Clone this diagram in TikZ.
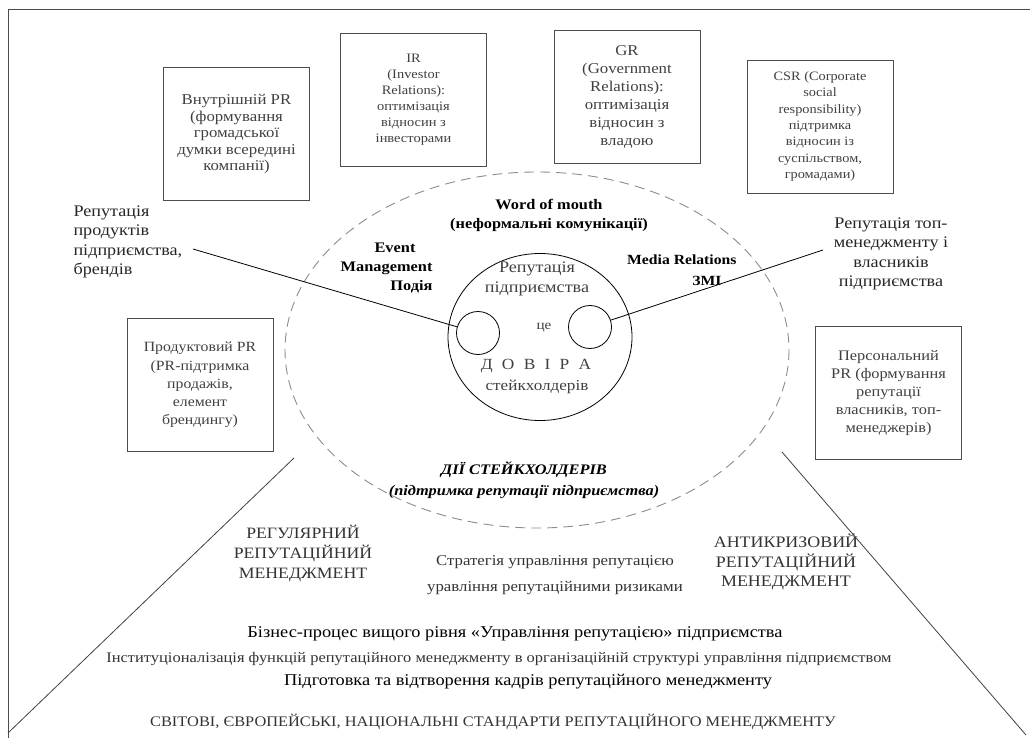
\documentclass[tikz,border=0pt]{standalone}
\usepackage{fontspec}
\setmainfont[FakeStretch=1.12]{Liberation Serif}
\usepackage{tikz}
\usetikzlibrary{shapes.geometric}

\newcommand{\fsz}[2]{\fontsize{#1}{#2}\selectfont}

\tikzset{
  pbox/.style={draw=black!70, line width=0.9pt, minimum width=146pt, minimum height=133pt,
    align=center, inner sep=1pt, text=black!75},
  outerlbl/.style={text=black!85, font=\fsz{16.2}{19.5}},
  boldlbl/.style={align=center, text=black, font=\bfseries\fsz{14.6}{19}},
  pyrtxt/.style={align=center, text=black!80},
  smallc/.style={draw, circle, line width=0.8pt, minimum size=43pt, inner sep=0pt},
  coretxt/.style={align=center, text=black!75},
}

\begin{document}
\begin{tikzpicture}[x=1pt,y=-1pt]
  \useasboundingbox (0,0) rectangle (1030,738);
  % frame
  \draw[black!70, line width=0.8pt] (1030,9) -- (8,9) -- (8,738);

  % PR boxes
  \node[pbox, font=\fsz{15}{16.5}] (vnutr) at (236.5,134) {Внутрішній PR\\(формування\\громадської\\думки всередині\\компанії)};
  \node[pbox, font=\fsz{12.9}{16}] (ir) at (413.5,99.5) {IR\\(Investor\\Relations):\\оптимізація\\відносин з\\інвесторами};
  \node[pbox, font=\fsz{15}{18}] (gr) at (627,96.5) {GR\\(Government\\Relations):\\оптимізація\\відносин з\\владою};
  \node[pbox, font=\fsz{12.8}{16.3}] (csr) at (820,126.5) {CSR (Corporate\\social\\responsibility)\\підтримка\\відносин із\\суспільством,\\громадами)};
  \node[pbox, font=\fsz{14.1}{18.3}] (prod) at (200,385) {Продуктовий PR\\(PR-підтримка\\продажів,\\елемент\\брендингу)};
  \node[pbox, font=\fsz{14.6}{18}] (pers) at (888.5,393) {Персональний\\PR (формування\\репутації\\власників, топ-\\менеджерів)};

  % outer labels
  \node[outerlbl, align=left, anchor=north west] (prodrep) at (70,202) {Репутація\\продуктів\\підприємства,\\брендів};
  \node[outerlbl, align=center] (toprep) at (891,254) {Репутація топ-\\менеджменту і\\власників\\підприємства};

  % dashed oval of stakeholder actions
  \draw[black!45, line width=0.9pt, dash pattern=on 10pt off 6pt] (537,350) ellipse [x radius=252, y radius=178];
  \node[boldlbl] (wom) at (549,215) {Word of mouth\\(неформальні комунікації)};
  \node[boldlbl, align=right, anchor=east] (event) at (436,268) {Event\hspace{17pt}\mbox{}\\Management\\Подія};
  \node[boldlbl, align=right, anchor=east, font=\bfseries\fsz{14}{21}] (media) at (740,270) {Media Relations\\ЗМІ\hspace{15pt}\mbox{}};
  \node[boldlbl, font=\bfseries\itshape\fsz{14.6}{21}] (dii) at (524,480) {ДІЇ СТЕЙКХОЛДЕРІВ\\(підтримка репутації підприємства)};

  % core: reputation = trust
  \node[draw, ellipse, line width=0.8pt, minimum width=184pt, minimum height=167pt] (core) at (540,337) {};
  \node[smallc] (lcirc) at (478,333) {};
  \node[smallc] (rcirc) at (590,327) {};
  \node[coretxt, font=\fsz{16.2}{20}] (reptxt) at (537,279) {Репутація\\підприємства};
  \node[coretxt, font=\fsz{13.5}{16}] (ce) at (544,328) {це};
  \node[coretxt, font=\fsz{15.5}{18}] (dovira) at (536,366) {Д\hspace{0.6em}О\hspace{0.6em}В\hspace{0.6em}І\hspace{0.6em}Р\hspace{0.6em}А};
  \node[coretxt, font=\fsz{15.3}{18}] (stkh) at (537,387) {стейкхолдерів};

  % connectors
  \coordinate (pa) at (193,249);
  \coordinate (pb) at (823,250);
  \draw[line width=0.8pt] (pa) -- (lcirc);
  \draw[line width=0.8pt] (pb) -- (rcirc);

  % pyramid
  \coordinate (pyl) at (8,733);
  \coordinate (pylt) at (294,458);
  \coordinate (pyr) at (1026,735);
  \coordinate (pyrt) at (782,452);
  \draw[black!75, line width=0.8pt] (pyl) -- (pylt);
  \draw[black!75, line width=0.8pt] (pyr) -- (pyrt);

  \node[pyrtxt, font=\fsz{15.8}{20}] (regul) at (303,553) {РЕГУЛЯРНИЙ\\РЕПУТАЦІЙНИЙ\\МЕНЕДЖМЕНТ};
  \node[pyrtxt, font=\fsz{16}{19.5}] (antik) at (786,562) {АНТИКРИЗОВИЙ\\РЕПУТАЦІЙНИЙ\\МЕНЕДЖМЕНТ};
  \node[pyrtxt, font=\fsz{15}{26}] (strat) at (555,575) {Стратегія управління репутацією\\уравління репутаційними ризиками};
  \node[pyrtxt, text=black, font=\fsz{16.4}{18}] (biz) at (515,634) {Бізнес-процес вищого рівня «Управління репутацією» підприємства};
  \node[pyrtxt, font=\fsz{14.7}{16}] (inst) at (499,659) {Інституціоналізація функцій репутаційного менеджменту в організаційній структурі управління підприємством};
  \node[pyrtxt, text=black, font=\fsz{16.4}{18}] (kadr) at (528,682) {Підготовка та відтворення кадрів репутаційного менеджменту};
  \node[pyrtxt, font=\fsz{14.6}{18}] (std) at (493,722) {СВІТОВІ, ЄВРОПЕЙСЬКІ, НАЦІОНАЛЬНІ СТАНДАРТИ РЕПУТАЦІЙНОГО МЕНЕДЖМЕНТУ};
\end{tikzpicture}
\end{document}
